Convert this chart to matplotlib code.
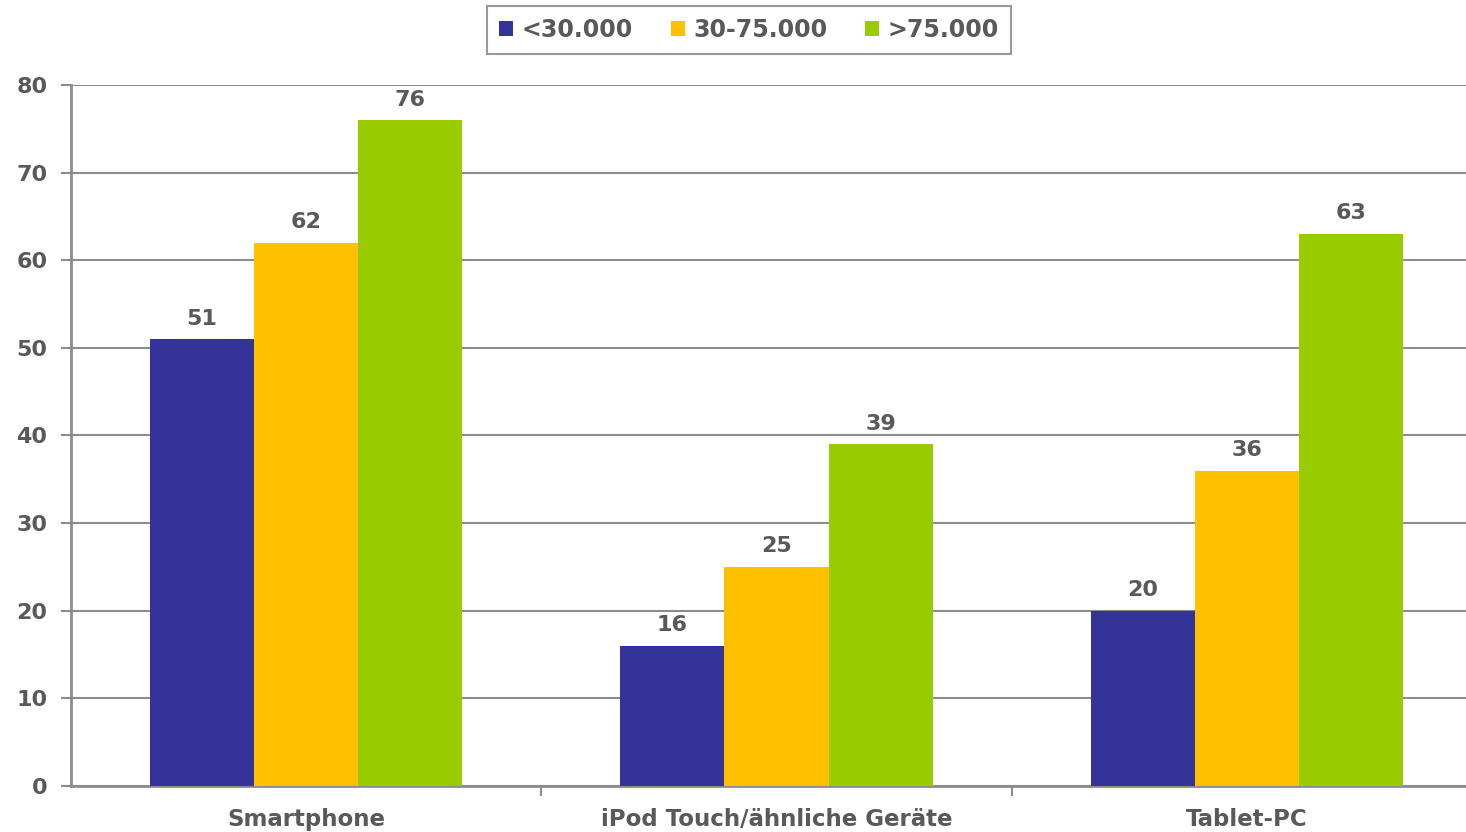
import matplotlib
matplotlib.use("Agg")
import matplotlib.pyplot as plt
import numpy as np

categories = ["Smartphone", "iPod Touch/ähnliche Geräte", "Tablet-PC"]
series_names = ["<30.000", "30-75.000", ">75.000"]
low = [51, 16, 20]
mid = [62, 25, 36]
high = [76, 39, 63]
colors = ["#333399", "#FFC000", "#99CC00"]
yticks = [0, 10, 20, 30, 40, 50, 60, 70, 80]

txt = "#595959"
grid = "#8c8c8c"
plt.rcParams['font.family'] = ['DejaVu Sans']

fig = plt.figure(figsize=(14.66, 8.32), dpi=100)
ax = fig.add_axes([71/1466, 1-786/832, 1411/1466, (786-85)/832])

x = np.arange(len(categories))
w = 104/470
for i, (vals, col) in enumerate(zip([low, mid, high], colors)):
    pos = x + (i - 1) * w
    bars = ax.bar(pos, vals, width=w, color=col, label=series_names[i], zorder=3)
    for b, v in zip(bars, vals):
        ax.text(b.get_x() + b.get_width()/2, v + 1.2, str(v), ha="center", va="bottom",
                fontsize=16, fontweight="bold", color=txt)

ax.set_xlim(-0.5, 2.5)
ax.set_ylim(0, 80)
ax.set_yticks(yticks)
ax.set_yticklabels([str(t) for t in yticks], fontsize=16, fontweight="bold", color=txt)
ax.yaxis.grid(True, color=grid, linewidth=1.5, zorder=0)
ax.set_axisbelow(True)
ax.set_xticks([0.5, 1.5])
ax.set_xticklabels([])
ax.set_xticks(x, minor=True)
ax.set_xticklabels(categories, minor=True, fontsize=16.5, fontweight="bold", color=txt)
ax.tick_params(axis="x", which="minor", length=0, pad=16)
ax.tick_params(axis="x", which="major", length=7, width=1.5, color=grid, direction="out")
ax.tick_params(axis="y", length=7, width=1.5, color=grid, direction="out", pad=10)
for s in ["top", "right"]:
    ax.spines[s].set_visible(False)
for s in ["left", "bottom"]:
    ax.spines[s].set_color(grid)
    ax.spines[s].set_linewidth(2)

leg = fig.legend(loc="center", bbox_to_anchor=(749/1466, 1-30/832), ncol=3, frameon=True,
                 fancybox=False, edgecolor="#808080", handlelength=0.6, handleheight=0.6,
                 handletextpad=0.35, columnspacing=1.6, prop={"size": 17, "weight": "bold"},
                 borderpad=0.5, borderaxespad=0)
leg.get_frame().set_linewidth(1.5)
for t in leg.get_texts():
    t.set_color(txt)

fig.savefig("out.png", dpi=100)
